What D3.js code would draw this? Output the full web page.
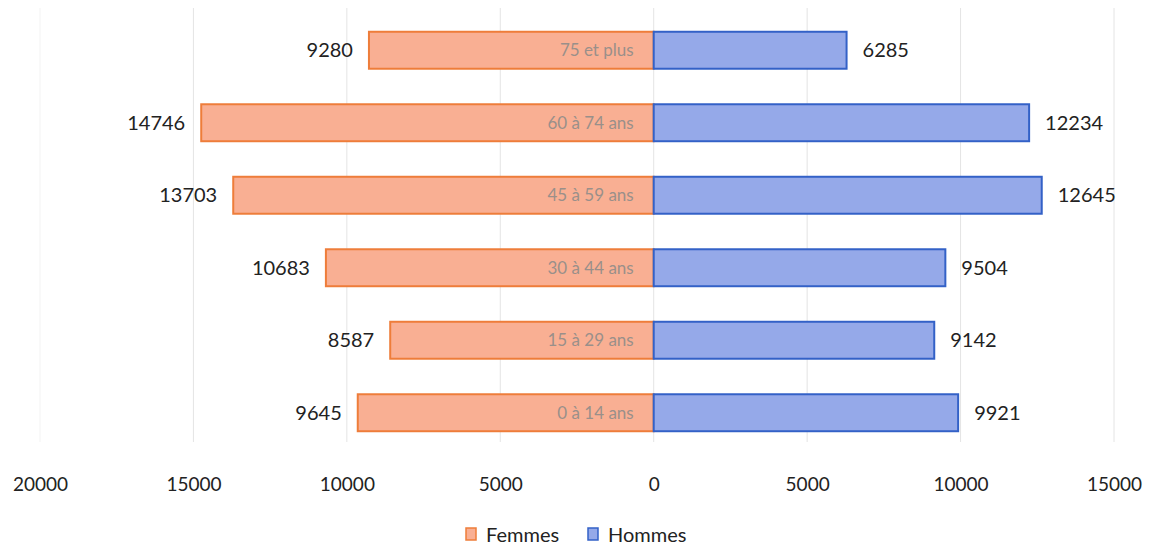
<!DOCTYPE html>
<html><head><meta charset="utf-8">
<script src="https://cdn.jsdelivr.net/npm/d3@7"></script>
<style>body{margin:0;background:#fff}svg{display:block}text{font-family:Lato,"Open Sans",sans-serif}</style>
</head><body>
<svg id="c" width="1149" height="546"></svg>
<script>
const categories = ["75 et plus","60 à 74 ans","45 à 59 ans","30 à 44 ans","15 à 29 ans","0 à 14 ans"];
const femmes = [9280,14746,13703,10683,8587,9645];
const hommes = [6285,12234,12645,9504,9142,9921];
const tickValues = [-20000,-15000,-10000,-5000,0,5000,10000,15000];
const seriesNames = ["Femmes","Hommes"];

const svg = d3.select("#c");
const x = d3.scaleLinear().domain([-20000,15000]).range([40,1114]);
const y = d3.scaleBand().domain(categories).range([14,449]).paddingInner(0.49).paddingOuter(0.245);

// gridlines
svg.append("g").selectAll("line").data(tickValues).join("line")
  .attr("x1",d=>x(d)).attr("x2",d=>x(d)).attr("y1",8).attr("y2",442)
  .attr("stroke",d=>d===-20000?"#f3f3f3":"#e4e4e4").attr("stroke-width",1);

// axis
const ax = svg.append("g").attr("transform","translate(0,474)")
  .call(d3.axisBottom(x).tickValues(tickValues).tickFormat(d=>String(Math.abs(d))).tickSize(0));
ax.select(".domain").remove();
ax.selectAll("text").attr("font-size",19).attr("fill","#222").attr("dy","0.71em").attr("font-family","Lato,sans-serif");

const bh = y.bandwidth();
// female bars
svg.append("g").selectAll("rect").data(categories).join("rect")
  .attr("x",(d,i)=>x(-femmes[i])).attr("y",d=>y(d)).attr("width",(d,i)=>x(0)-x(-femmes[i])).attr("height",bh)
  .attr("fill","#F9AF93").attr("stroke","#EE7D3A").attr("stroke-width",2);
// male bars
svg.append("g").selectAll("rect").data(categories).join("rect")
  .attr("x",x(0)).attr("y",d=>y(d)).attr("width",(d,i)=>x(hommes[i])-x(0)).attr("height",bh)
  .attr("fill","#95A9E9").attr("stroke","#3361C7").attr("stroke-width",2);

// category labels
svg.append("g").selectAll("text").data(categories).join("text")
  .attr("x",x(0)-20).attr("y",d=>y(d)+bh/2).attr("dy","0.35em").attr("text-anchor","end")
  .attr("font-size",17).attr("fill","#9a8f8a").text(d=>d);

// value labels
svg.append("g").selectAll("text").data(categories).join("text")
  .attr("x",(d,i)=>x(-femmes[i])-16).attr("y",d=>y(d)+bh/2).attr("dy","0.36em").attr("text-anchor","end")
  .attr("font-size",20).attr("fill","#222").text((d,i)=>femmes[i]);
svg.append("g").selectAll("text").data(categories).join("text")
  .attr("x",(d,i)=>x(hommes[i])+16).attr("y",d=>y(d)+bh/2).attr("dy","0.36em").attr("text-anchor","start")
  .attr("font-size",20).attr("fill","#222").text((d,i)=>hommes[i]);

// legend
const lg = svg.append("g");
const lx = [466,588];
const fills = ["#F9AF93","#95A9E9"], strokes=["#EE7D3A","#3361C7"];
seriesNames.forEach((n,i)=>{
  lg.append("rect").attr("x",lx[i]).attr("y",528).attr("width",10).attr("height",12)
    .attr("fill",fills[i]).attr("stroke",strokes[i]).attr("stroke-width",1.5);
  lg.append("text").attr("x",lx[i]+20).attr("y",534.5).attr("dy","0.36em").attr("font-size",20).attr("fill","#222").text(n);
});
</script>
</body></html>
